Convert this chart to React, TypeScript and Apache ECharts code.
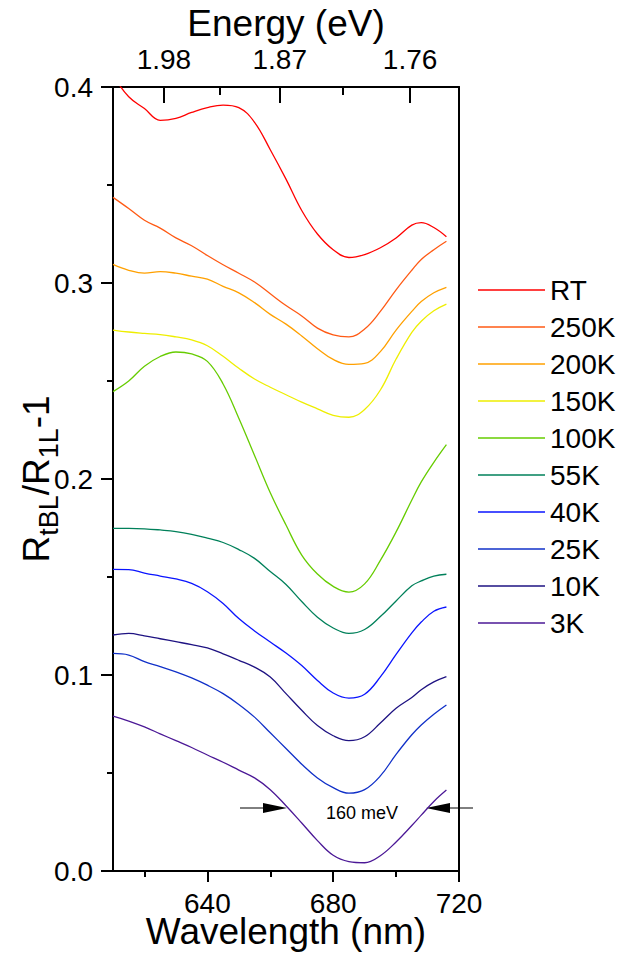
import React, { useEffect, useRef } from 'react';
import * as echarts from 'echarts';

const HC = 1239.84;
const FONT = 'Liberation Sans, Arial, Helvetica, sans-serif';

const wavelengths = [610, 615, 620, 625, 630, 635, 640, 645, 650, 655, 660, 665, 670, 675, 680, 685, 690, 695, 700, 705, 708, 712, 716];

const seriesNames = ['RT', '250K', '200K', '150K', '100K', '55K', '40K', '25K', '10K', '3K'];
const seriesColors = ['#ff0000', '#ff5a14', '#ffa000', '#eeee00', '#66cc00', '#00805a', '#0a14ff', '#1030c8', '#1e1282', '#4b1896'];

const rt = [0.406, 0.395, 0.389, 0.383, 0.384, 0.387, 0.3895, 0.3908, 0.3895, 0.382, 0.368, 0.353, 0.337, 0.325, 0.317, 0.313, 0.3145, 0.318, 0.323, 0.3295, 0.3308, 0.3283, 0.3236];
const k250 = [0.3437, 0.338, 0.332, 0.328, 0.323, 0.319, 0.314, 0.3093, 0.305, 0.3005, 0.2945, 0.2885, 0.2832, 0.277, 0.2735, 0.2725, 0.2765, 0.2855, 0.2965, 0.3065, 0.312, 0.317, 0.3213];
const k200 = [0.3095, 0.3065, 0.305, 0.3058, 0.305, 0.3035, 0.302, 0.2983, 0.295, 0.29, 0.284, 0.279, 0.273, 0.2665, 0.261, 0.2585, 0.259, 0.265, 0.276, 0.2855, 0.2905, 0.295, 0.2978];
const k150 = [0.276, 0.275, 0.2743, 0.2737, 0.2725, 0.271, 0.268, 0.2626, 0.2565, 0.251, 0.2468, 0.243, 0.2392, 0.2358, 0.2325, 0.2315, 0.2355, 0.2454, 0.2612, 0.2748, 0.2805, 0.2858, 0.2892];
const k100 = [0.2446, 0.25, 0.2575, 0.2625, 0.2648, 0.2638, 0.26, 0.2485, 0.231, 0.212, 0.193, 0.1765, 0.1612, 0.1515, 0.1452, 0.1423, 0.1465, 0.1585, 0.173, 0.1893, 0.1985, 0.2085, 0.2175];
const k55 = [0.1748, 0.1748, 0.1746, 0.174, 0.1732, 0.1718, 0.1698, 0.1676, 0.164, 0.1595, 0.1528, 0.1462, 0.1375, 0.1295, 0.124, 0.1212, 0.1232, 0.1298, 0.1378, 0.1455, 0.148, 0.1505, 0.1514];
const k40 = [0.1539, 0.1538, 0.152, 0.1505, 0.149, 0.1467, 0.1425, 0.1365, 0.1288, 0.1225, 0.1168, 0.1112, 0.1048, 0.0972, 0.0908, 0.0882, 0.0902, 0.099, 0.1105, 0.1215, 0.127, 0.1325, 0.1347];
const k25 = [0.111, 0.1102, 0.1068, 0.1043, 0.1016, 0.0985, 0.0948, 0.0905, 0.085, 0.0785, 0.0705, 0.0625, 0.0545, 0.0475, 0.0425, 0.0397, 0.0415, 0.0485, 0.0595, 0.0695, 0.0745, 0.08, 0.0847];
const k10 = [0.1204, 0.1212, 0.12, 0.1185, 0.117, 0.1155, 0.1138, 0.1108, 0.1075, 0.104, 0.099, 0.0905, 0.082, 0.0742, 0.069, 0.0665, 0.0685, 0.0755, 0.083, 0.0885, 0.0925, 0.0965, 0.0992];
const k3 = [0.079, 0.0765, 0.0735, 0.07, 0.0665, 0.063, 0.0592, 0.0555, 0.0515, 0.0475, 0.0415, 0.0333, 0.0245, 0.0155, 0.008, 0.0048, 0.0042, 0.0078, 0.0148, 0.0232, 0.0285, 0.0355, 0.0413];
const seriesValues = [rt, k250, k200, k150, k100, k55, k40, k25, k10, k3];

const wavelengthMajorTicks = [640, 680, 720];
const wavelengthMinorTicks = [620, 660, 700];
const energyMajorTicks = [1.98, 1.87, 1.76];
const energyMinorTicks = [1.925, 1.815];

export default function App() {
  const ref = useRef<HTMLDivElement>(null);
  useEffect(() => {
    const chart = echarts.init(ref.current!, null, { renderer: 'svg' });
    const axisLineStyle = { color: '#000', width: 2 };
    const tickLabel = { fontSize: 28, color: '#000', fontFamily: FONT };
    const option: any = {
      animation: false,
      backgroundColor: '#fff',
      grid: { left: 113, right: 162, top: 87, bottom: 82, containLabel: false },
      xAxis: [
        {
          type: 'value', min: 610, max: 720, position: 'bottom',
          axisLine: { show: true, lineStyle: axisLineStyle },
          axisTick: { show: true, customValues: wavelengthMajorTicks, length: 11, lineStyle: axisLineStyle },
          axisLabel: { show: true, customValues: wavelengthMajorTicks, margin: 18, ...tickLabel },
          splitLine: { show: false },
        },
        {
          type: 'value', min: 610, max: 720, position: 'bottom',
          axisLine: { show: false },
          axisTick: { show: true, customValues: wavelengthMinorTicks, length: 6, lineStyle: axisLineStyle },
          axisLabel: { show: false },
          splitLine: { show: false },
        },
        {
          type: 'value', min: 610, max: 720, position: 'top',
          axisLine: { show: true, lineStyle: axisLineStyle },
          axisTick: { show: true, inside: true, customValues: energyMajorTicks.map((e) => HC / e), length: 16, lineStyle: axisLineStyle },
          axisLabel: {
            show: true, customValues: energyMajorTicks.map((e) => HC / e), margin: 14, ...tickLabel,
            formatter: (v: number) => (HC / v).toFixed(2),
          },
          splitLine: { show: false },
        },
        {
          type: 'value', min: 610, max: 720, position: 'top',
          axisLine: { show: false },
          axisTick: { show: true, inside: true, customValues: energyMinorTicks.map((e) => HC / e), length: 8, lineStyle: axisLineStyle },
          axisLabel: { show: false },
          splitLine: { show: false },
        },
      ],
      yAxis: [
        {
          type: 'value', min: 0, max: 0.4, interval: 0.1, position: 'left',
          axisLine: { show: true, lineStyle: axisLineStyle },
          axisTick: { show: true, length: 12, lineStyle: axisLineStyle },
          minorTick: { show: true, splitNumber: 2, length: 6, lineStyle: axisLineStyle },
          axisLabel: { margin: 20, ...tickLabel, formatter: (v: number) => v.toFixed(1) },
          splitLine: { show: false },
          minorSplitLine: { show: false },
        },
        {
          type: 'value', min: 0, max: 0.4, position: 'right',
          axisLine: { show: true, lineStyle: axisLineStyle },
          axisTick: { show: false },
          axisLabel: { show: false },
          splitLine: { show: false },
        },
      ],
      legend: {
        data: seriesNames,
        orient: 'vertical',
        left: 473,
        top: 270,
        itemWidth: 67,
        itemHeight: 1.5,
        itemGap: 7,
        icon: 'rect',
        textStyle: { fontSize: 28, lineHeight: 30, color: '#000', fontFamily: FONT },
      },
      series: seriesNames.map((name, i) => ({
        name,
        type: 'line',
        xAxisIndex: 0,
        yAxisIndex: 0,
        data: wavelengths.map((w, j) => [w, seriesValues[i][j]]),
        showSymbol: false,
        symbol: 'none',
        smooth: 0.4,
        color: seriesColors[i],
        lineStyle: { color: seriesColors[i], width: 1.3 },
      })),
      graphic: [
        {
          type: 'text', x: 286, y: 23,
          style: { text: 'Energy (eV)', fontSize: 37, fontFamily: FONT, fill: '#000', align: 'center', verticalAlign: 'middle' },
        },
        {
          type: 'text', x: 286, y: 931,
          style: { text: 'Wavelength (nm)', fontSize: 37, fontFamily: FONT, fill: '#000', align: 'center', verticalAlign: 'middle' },
        },
        {
          type: 'text', x: 36, y: 479, rotation: Math.PI / 2,
          style: {
            text: '{m|R}{s|tBL}{m|/R}{s|1L}{m|-1}',
            align: 'center', verticalAlign: 'middle',
            rich: {
              m: { fontSize: 37, fontFamily: FONT, fill: '#000', lineHeight: 46 },
              s: { fontSize: 27, fontFamily: FONT, fill: '#000', lineHeight: 27, padding: [26, 0, 0, 0] },
            },
          },
        },
        { type: 'line', shape: { x1: 240, y1: 808, x2: 264, y2: 808 }, style: { stroke: '#000', lineWidth: 1 } },
        { type: 'polygon', shape: { points: [[263, 803], [287, 808], [263, 813]] }, style: { fill: '#000' } },
        { type: 'line', shape: { x1: 449, y1: 808, x2: 473, y2: 808 }, style: { stroke: '#000', lineWidth: 1 } },
        { type: 'polygon', shape: { points: [[450, 803], [426, 808], [450, 813]] }, style: { fill: '#000' } },
        {
          type: 'text', x: 362, y: 813,
          style: { text: '160 meV', fontSize: 18, fontFamily: FONT, fill: '#000', align: 'center', verticalAlign: 'middle' },
        },
      ],
    };
    chart.setOption(option);
    return () => chart.dispose();
  }, []);
  return <div ref={ref} style={{ position: 'fixed', left: 0, top: 0, width: 621, height: 953 }} />;
}
